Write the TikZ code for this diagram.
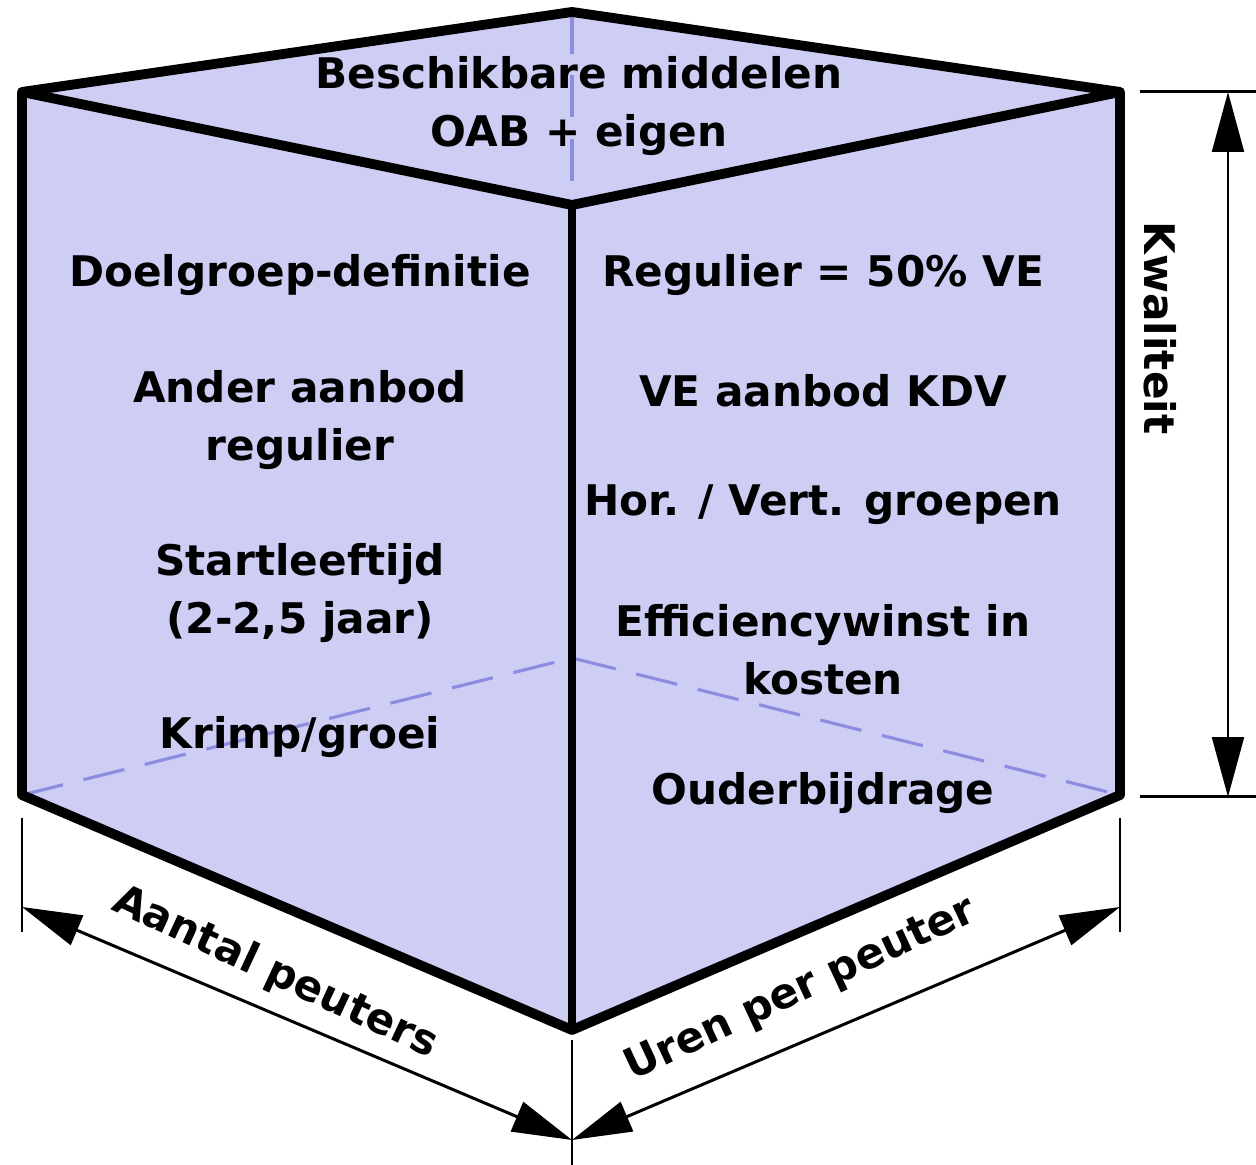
\documentclass[tikz,border=0pt]{standalone}
\usepackage{fontspec}
\setmainfont{DejaVu Sans}
\usepackage{tikz}
\usetikzlibrary{arrows.meta}
\definecolor{cubefill}{RGB}{206,206,245}
\definecolor{hidden}{RGB}{140,140,225}
\tikzset{edge/.style={line width=2.8pt, line join=round},
 midedge/.style={line width=2pt},
 hiddenedge/.style={hidden, line width=0.9pt, dash pattern=on 12pt off 6pt},
 extline/.style={line width=0.85pt},
 dimline/.style={line width=0.85pt, {Triangle[length=17pt,width=9pt]}-{Triangle[length=17pt,width=9pt]}},
 txt/.style={font=\fontsize{12}{16.5}\selectfont\bfseries, align=center, inner sep=0pt},
 }

\begin{document}
\begin{tikzpicture}[x=0.01cm, y=-0.01cm]
        \useasboundingbox (0,0) rectangle (1256,1165);
        % cube corners
        \coordinate (tl) at (22,92);
        \coordinate (tb) at (572,12);
        \coordinate (tr) at (1120,92);
        \coordinate (tf) at (572,205);
        \coordinate (bl) at (22,795);
        \coordinate (br) at (1120,795);
        \coordinate (bf) at (572,1030);
        \coordinate (bb) at (572,658);
        \fill [cubefill] (tl) -- (tb) -- (tr) -- (br) -- (bf) -- (bl) -- cycle;
        % hidden edges
        \draw [hiddenedge] (tb) -- (tf);
        \draw [hiddenedge] (bl) -- (bb) -- (br);
        \draw [edge] (tl) -- (tb) -- (tr) -- (br) -- (bf) -- (bl) -- cycle;
        \draw [edge] (tl) -- (tf) -- (tr);
        \draw [midedge] (tf) -- (bf);
        % top face
        \node [txt] (middelen) at (579,106) {Beschikbare middelen\\OAB + eigen};
        % left face
        \node [txt] (doel) at (300,275) {Doelgroep-definitie};
        \node [txt] (ander) at (300,420) {Ander aanbod\\regulier};
        \node [txt] (start) at (300,593) {Startleeftijd\\(2-2,5 jaar)};
        \node [txt] (krimp) at (300,737) {Krimp/groei};
        % right face
        \node [txt] (regulier) at (823,275) {Regulier = 50\% VE};
        \node [txt] (kdv) at (823,391) {VE aanbod KDV};
        \node [txt] (groepen) at (823,505) {Hor. / Vert. groepen};
        \node [txt] (winst) at (823,650) {Efficiencywinst in\\kosten};
        \node [txt] (ouder) at (823,793) {Ouderbijdrage};
        % height
        \coordinate (hta) at (1140,92);
        \coordinate (htb) at (1256,92);
        \coordinate (hba) at (1140,797);
        \coordinate (hbb) at (1256,797);
        \coordinate (hup) at (1228,92);
        \coordinate (hdn) at (1228,797);
        \draw [extline] (hta) -- (htb);
        \draw [extline] (hba) -- (hbb);
        \draw [dimline] (hup) -- (hdn);
        \node [txt, rotate=-90] (kwal) at (1160,328) {Kwaliteit};
        % width and depth
        \coordinate (la) at (22,818);
        \coordinate (lb) at (22,932);
        \coordinate (ma) at (572,1040);
        \coordinate (mb) at (572,1165);
        \coordinate (ra) at (1120,818);
        \coordinate (rb) at (1120,932);
        \coordinate (ldim) at (22,907);
        \coordinate (mdim) at (572,1140);
        \coordinate (rdim) at (1120,907);
        \draw [extline] (la) -- (lb);
        \draw [extline] (ma) -- (mb);
        \draw [extline] (ra) -- (rb);
        \draw [dimline] (ldim) -- (mdim);
        \draw [dimline] (mdim) -- (rdim);
        \node [txt, rotate=-25] (aantal) at (275,973) {Aantal peuters};
        \node [txt, rotate=25] (uren) at (801,990) {Uren per peuter};
    \end{tikzpicture}
\end{document}
